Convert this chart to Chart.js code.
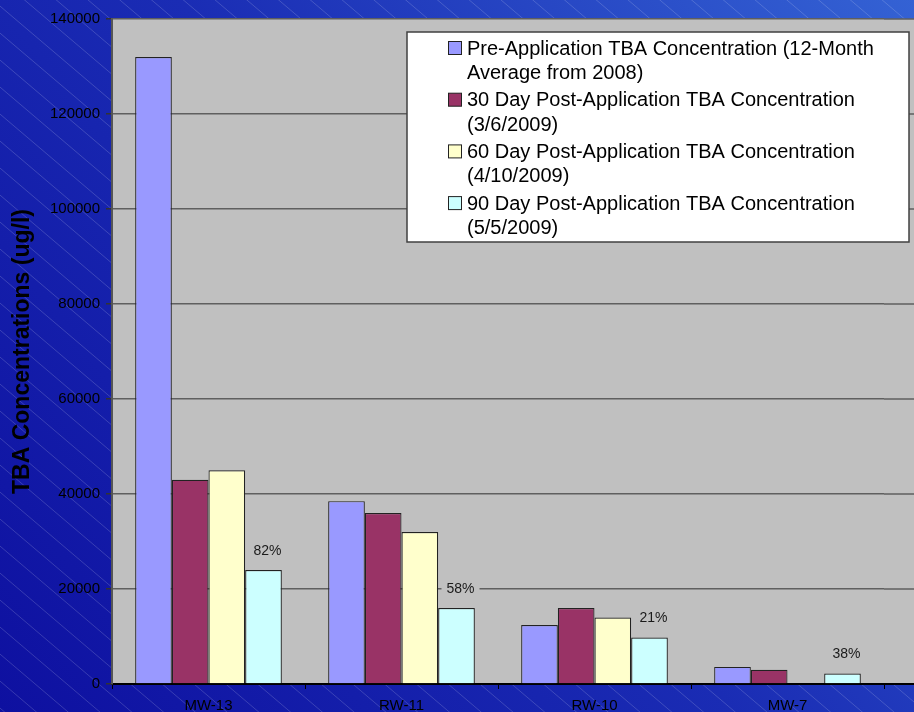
<!DOCTYPE html>
<html><head><meta charset="utf-8">
<script src="https://cdn.jsdelivr.net/npm/chart.js@4.4.0/dist/chart.umd.min.js"></script>
<style>html,body{margin:0;padding:0;overflow:hidden;background:#1a2ab0}#wrap{width:914px;height:712px;position:relative}canvas{display:block}</style>
</head><body><div id="wrap"><canvas id="c" width="914" height="712"></canvas></div>
<script>
// ---- data ----
const categories = ['MW-13', 'RW-11', 'RW-10', 'MW-7'];
const preApplication = [132000, 38500, 12400, 3600];
const post30Day = [43000, 36000, 16000, 3000];
const post60Day = [45000, 32000, 14000, null];
const post90Day = [24000, 16000, 9800, 2200];
const reductionLabels = ['82%', '58%', '21%', '38%'];
const seriesNames = [
  'Pre-Application TBA Concentration (12-Month\nAverage from 2008)',
  '30 Day Post-Application TBA Concentration\n(3/6/2009)',
  '60 Day Post-Application TBA Concentration\n(4/10/2009)',
  '90 Day Post-Application TBA Concentration\n(5/5/2009)'
];
const yMin = 0, yMax = 140000, yStep = 20000;
const yTitle = 'TBA Concentrations (ug/l)';

const FONT = "'Liberation Sans', Arial, sans-serif";
const colors = ['#9999ff', '#993366', '#ffffcc', '#ccffff'];

const bgPlugin = {
  id: 'bg',
  beforeDraw(chart) {
    const {ctx, width, height, chartArea: a} = chart;
    ctx.save();
    const g = ctx.createLinearGradient(0, height, width, 0);
    g.addColorStop(0, '#0e10a0');
    g.addColorStop(0.5, '#1a2cb4');
    g.addColorStop(1, '#3462d4');
    ctx.fillStyle = g;
    ctx.fillRect(0, 0, width, height);
    ctx.strokeStyle = 'rgba(255,255,255,0.17)';
    ctx.lineWidth = 1;
    const slope = 0.85, gap = 27;
    for (let c = -width * slope; c < height; c += gap) {
      ctx.beginPath();
      ctx.moveTo(0, c);
      ctx.lineTo(width, c + width * slope);
      ctx.stroke();
    }
    ctx.fillStyle = '#c0c0c0';
    ctx.fillRect(a.left, a.top, width - a.left, a.bottom - a.top);
    ctx.restore();
  }
};

const extPlugin = {
  id: 'ext',
  beforeDatasetsDraw(chart) {
    const {ctx, width, chartArea: a, scales: {y}} = chart;
    ctx.save();
    ctx.strokeStyle = '#5f5f5f';
    ctx.lineWidth = 1.5;
    y.ticks.forEach(t => {
      if (t.value === 0) return;
      const py = y.getPixelForValue(t.value);
      ctx.beginPath(); ctx.moveTo(a.right, py); ctx.lineTo(width, py); ctx.stroke();
    });
    ctx.strokeStyle = '#000';
    ctx.lineWidth = 2;
    ctx.beginPath(); ctx.moveTo(a.right - 1, a.bottom); ctx.lineTo(width, a.bottom); ctx.stroke();
    ctx.restore();
  }
};

const pctPlugin = {
  id: 'pct',
  afterDatasetsDraw(chart) {
    const {ctx} = chart;
    const meta = chart.getDatasetMeta(3);
    ctx.save();
    ctx.font = '14px ' + FONT;
    ctx.textAlign = 'center';
    ctx.textBaseline = 'middle';
    meta.data.forEach((bar, i) => {
      const txt = reductionLabels[i];
      if (!txt) return;
      const x = bar.x + 4, yy = bar.y - 19;
      const w = ctx.measureText(txt).width;
      ctx.fillStyle = '#c0c0c0';
      ctx.fillRect(x - w / 2 - 5, yy - 9, w + 10, 18);
      ctx.fillStyle = '#1a1a1a';
      ctx.fillText(txt, x, yy);
    });
    ctx.restore();
  }
};

const legendPlugin = {
  id: 'customLegend',
  afterDraw(chart) {
    const {ctx} = chart;
    const bx = 407, by = 32, bw = 502, bh = 210;
    ctx.save();
    ctx.fillStyle = '#ffffff';
    ctx.fillRect(bx, by, bw, bh);
    ctx.strokeStyle = '#404040';
    ctx.lineWidth = 1.5;
    ctx.strokeRect(bx, by, bw, bh);
    ctx.font = '20px ' + FONT;
    ctx.textBaseline = 'middle';
    ctx.textAlign = 'left';
    chart.data.datasets.forEach((ds, i) => {
      const cy = 48 + i * 51.7;
      ctx.fillStyle = ds.backgroundColor;
      ctx.fillRect(448.5, cy - 6.5, 13, 13);
      ctx.strokeStyle = '#222';
      ctx.lineWidth = 1;
      ctx.strokeRect(448.5, cy - 6.5, 13, 13);
      ctx.fillStyle = '#000';
      ds.label.split('\n').forEach((line, j) => {
        ctx.fillText(line, 467, cy + 1 + j * 24.5);
      });
    });
    ctx.restore();
  }
};

const datasetsData = [preApplication, post30Day, post60Day, post90Day];
new Chart(document.getElementById('c').getContext('2d'), {
  type: 'bar',
  data: {
    labels: categories,
    datasets: datasetsData.map((d, i) => ({
      label: seriesNames[i],
      data: d,
      backgroundColor: colors[i],
      borderColor: '#222222',
      borderWidth: 1.2
    }))
  },
  options: {
    responsive: false,
    animation: false,
    devicePixelRatio: 1,
    layout: {padding: {top: 19, right: 30, left: 0, bottom: 0}},
    plugins: {legend: {display: false}, tooltip: {enabled: false}},
    datasets: {bar: {categoryPercentage: 0.76, barPercentage: 1.0}},
    scales: {
      x: {
        grid: {display: true, drawOnChartArea: false, drawTicks: true, tickLength: 5, tickColor: '#000', offset: true},
        border: {color: '#000', width: 2},
        ticks: {color: '#000', font: {family: FONT, size: 15}, padding: 8, maxRotation: 0},
        afterFit(s) { s.height = 28; }
      },
      y: {
        min: yMin, max: yMax,
        ticks: {stepSize: yStep, color: '#000', font: {family: FONT, size: 15}, padding: 6, callback: v => String(v)},
        grid: {color: '#5f5f5f', lineWidth: 1.5, tickColor: '#333', tickLength: 6},
        border: {color: '#555', width: 2},
        title: {display: true, text: yTitle, color: '#000', font: {family: FONT, size: 23, weight: 'bold'}, padding: {top: 9, bottom: 0}},
        afterFit(s) { s.width = 112; }
      }
    }
  },
  plugins: [bgPlugin, extPlugin, pctPlugin, legendPlugin]
});
</script>
</body></html>
